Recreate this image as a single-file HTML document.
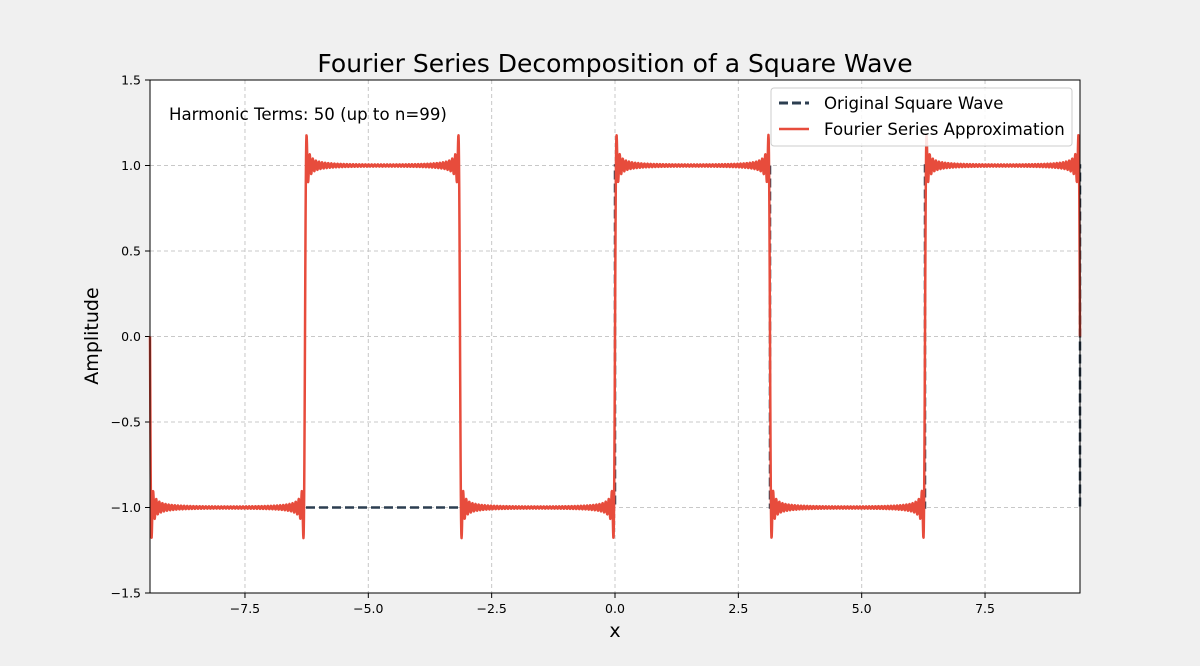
<!DOCTYPE html>
<html><head><meta charset="utf-8"><style>
body{margin:0;background:#f0f0f0;}
svg{display:block;font-family:"DejaVu Sans","Liberation Sans",sans-serif;}
</style></head><body>
<svg id="chart" width="1200" height="666">
<rect x="0" y="0" width="1200" height="666" fill="#f0f0f0"/>
<rect x="150" y="80" width="930" height="513" fill="#ffffff"/>
<g id="grid"></g>
<g id="ticks"></g>
<g id="series"></g>
<rect x="150" y="80" width="930" height="513" fill="none" stroke="#000" stroke-width="1"/>
<text x="615" y="72" text-anchor="middle" font-size="25">Fourier Series Decomposition of a Square Wave</text>
<text x="615" y="637" text-anchor="middle" font-size="19">x</text>
<text transform="translate(98,336) rotate(-90)" text-anchor="middle" font-size="19">Amplitude</text>
<text x="169" y="120" font-size="16.6">Harmonic Terms: 50 (up to n=99)</text>
<g>
<rect x="771" y="88" width="301" height="58" rx="3" fill="#fff" fill-opacity="0.85" stroke="#ccc"/>
<line x1="779" y1="103" x2="809" y2="103" stroke="#2c3e50" stroke-width="3" stroke-dasharray="9,4"/>
<text x="824" y="109" font-size="16.6">Original Square Wave</text>
<line x1="779" y1="129" x2="809" y2="129" stroke="#e74c3c" stroke-width="2.5"/>
<text x="824" y="135" font-size="16.6">Fourier Series Approximation</text>
</g>
</svg>
<script>
const xTicks=[-7.5,-5.0,-2.5,0.0,2.5,5.0,7.5];
const yTicks=[-1.5,-1.0,-0.5,0.0,0.5,1.0,1.5];
const harmonicCount=[50];
const squareLevels=[-1,1];
const xDomain=[-3*Math.PI,3*Math.PI];
const yDomain=[-1.5,1.5];
const NS="http://www.w3.org/2000/svg";
const X=v=>150+(v-xDomain[0])/(xDomain[1]-xDomain[0])*930;
const Y=v=>593-(v-yDomain[0])/(yDomain[1]-yDomain[0])*513;
function mk(tag,attrs,parent){const e=document.createElementNS(NS,tag);for(const k in attrs)e.setAttribute(k,attrs[k]);parent.appendChild(e);return e;}
const grid=document.getElementById('grid'),ticks=document.getElementById('ticks'),series=document.getElementById('series');
xTicks.forEach(t=>{
 const g=mk('line',{x1:X(t),x2:X(t),y1:80,y2:593,stroke:'#c8c8c8','stroke-dasharray':'4,3','stroke-width':1},grid);
 
 
 const tk=mk('line',{x1:X(t),x2:X(t),y1:593,y2:598,stroke:'#000'},ticks);
 
 
 const tx=mk('text',{x:X(t),y:613,'text-anchor':'middle','font-size':12.5},ticks);
 tx.textContent=(t<0?'\u2212':'')+Math.abs(t).toFixed(1);
 
 
});
yTicks.forEach(t=>{
 if(t>yDomain[0]&&t<yDomain[1]){const g=mk('line',{x1:150,x2:1080,y1:Y(t),y2:Y(t),stroke:'#c8c8c8','stroke-dasharray':'4,3','stroke-width':1},grid);
 
 }
 const tk=mk('line',{x1:145,x2:150,y1:Y(t),y2:Y(t),stroke:'#000'},ticks);
 
 
 const tx=mk('text',{x:141,y:Y(t)+4.5,'text-anchor':'end','font-size':12.5},ticks);
 tx.textContent=(t<0?'\u2212':'')+Math.abs(t).toFixed(1);
 
 
});
let sq=[];
const P=Math.PI;
sq.push([xDomain[0],squareLevels[0]],[0,squareLevels[0]]);
for(let k=0;k<3;k++){const lv=squareLevels[k%2===0?1:0];sq.push([k*P,lv],[(k+1)*P,lv]);}
sq.push([3*P,squareLevels[0]]);
const sqp=mk('polyline',{points:sq.map(p=>X(p[0])+','+Y(p[1])).join(' '),fill:'none',stroke:'#2c3e50','stroke-width':2.5,'stroke-dasharray':'9,4'},series);


const N=harmonicCount[0],steps=4000;let pts=[];
for(let i=0;i<=steps;i++){const x=xDomain[0]+(xDomain[1]-xDomain[0])*i/steps;let s=0;
 for(let k=1;k<=N;k++){const n=2*k-1;s+=Math.sin(n*x)/n;}
 pts.push(X(x).toFixed(2)+','+Y(4/Math.PI*s).toFixed(2));}
const fp=mk('polyline',{points:pts.join(' '),fill:'none',stroke:'#e74c3c','stroke-width':2.5,'stroke-linejoin':'round'},series);


</script>
</body></html>
